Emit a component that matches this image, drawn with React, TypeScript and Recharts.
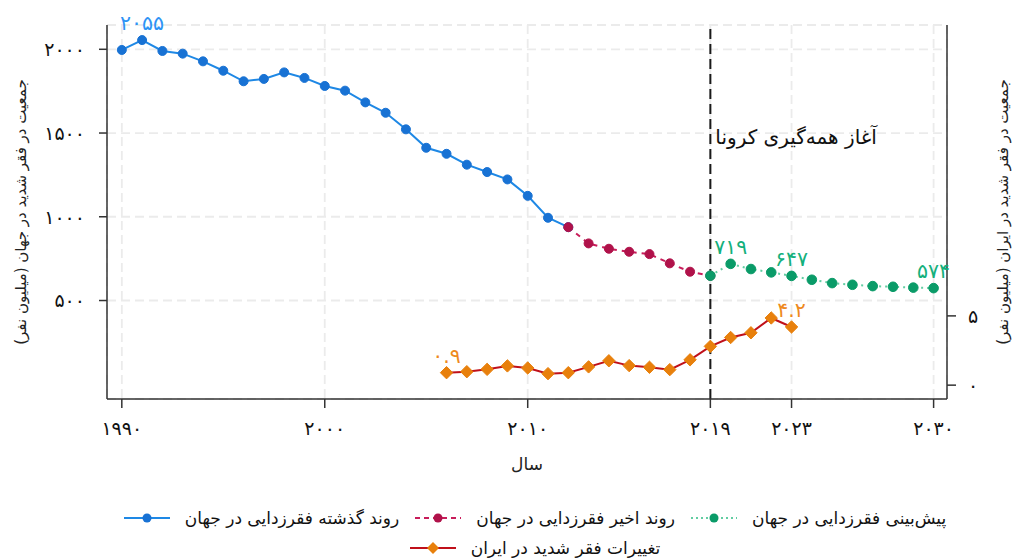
import React from 'react';
import { LineChart, Line, XAxis, YAxis, CartesianGrid, ReferenceLine } from 'recharts';

// ---- data ----
const pastYears = [1990, 1991, 1992, 1993, 1994, 1995, 1996, 1997, 1998, 1999, 2000, 2001, 2002, 2003, 2004, 2005, 2006, 2007, 2008, 2009, 2010, 2011, 2012];
const pastValues = [1996, 2055, 1990, 1974, 1928, 1872, 1809, 1823, 1862, 1829, 1781, 1753, 1683, 1621, 1522, 1412, 1376, 1311, 1267, 1223, 1125, 994, 938];

const recentYears = [2012, 2013, 2014, 2015, 2016, 2017, 2018, 2019];
const recentValues = [938, 841, 809, 791, 777, 722, 672, 648];

const forecastYears = [2019, 2020, 2021, 2022, 2023, 2024, 2025, 2026, 2027, 2028, 2029, 2030];
const forecastValues = [648, 719, 688, 668, 647, 624, 604, 594, 586, 582, 577, 574];

const iranYears = [2006, 2007, 2008, 2009, 2010, 2011, 2012, 2013, 2014, 2015, 2016, 2017, 2018, 2019, 2020, 2021, 2022, 2023];
const iranValues = [0.9, 0.97, 1.14, 1.39, 1.24, 0.83, 0.9, 1.32, 1.76, 1.41, 1.29, 1.12, 1.83, 2.8, 3.44, 3.78, 4.85, 4.2];

const xTicks = [1990, 2000, 2010, 2019, 2023, 2030];
const leftTicks = [500, 1000, 1500, 2000];
const rightTicks = [0, 5];

const pastLabelYears = [1991];
const forecastLabelYears = [2020, 2023, 2030];
const iranLabelYears = [2006, 2023];

const covidYear = 2019;
const covidText = 'آغاز همه‌گیری کرونا';
const xTitle = 'سال';
const leftTitle = 'جمعیت در فقر شدید در جهان (میلیون نفر)';
const rightTitle = 'جمعیت در فقر شدید در ایران (میلیون نفر)';
const legendNames = [
  'روند گذشته فقرزدایی در جهان',
  'روند اخیر فقرزدایی در جهان',
  'پیش‌بینی فقرزدایی در جهان',
  'تغییرات فقر شدید در ایران',
];

// ---- helpers ----
const toFa = (v: number | string) => String(v).replace(/[0-9]/g, (d) => '۰۱۲۳۴۵۶۷۸۹'[Number(d)]);
const zip = (ys: number[], vs: number[]) => ys.map((year, i) => ({ year, value: vs[i] }));

const pastData = zip(pastYears, pastValues);
const recentData = zip(recentYears, recentValues);
const forecastData = zip(forecastYears, forecastValues);
const iranData = zip(iranYears, iranValues);

const FONT = '"DejaVu Sans", sans-serif';

const C = {
  blueLine: '#1E88E5',
  blueDot: '#1872D4',
  blueText: '#2E93F5',
  redLine: '#C81D5A',
  redDot: '#B0124A',
  greenLine: '#62CDA2',
  greenDot: '#0A9B68',
  greenText: '#14B07C',
  iranLine: '#C0101A',
  iranDot: '#E8800C',
  iranText: '#EE8A1E',
  axis: '#333333',
  grid: '#EBEBEB',
};

const makeLabel = (data: { year: number; value: number }[], years: number[], color: string) =>
  (props: any) => {
    const { x, y, index } = props;
    const d = data[index];
    if (!d || !years.includes(d.year)) return null;
    return (
      <text x={x} y={y - 10} textAnchor="middle" fontSize={20.5} fill={color} fontFamily={FONT}>
        {toFa(d.value)}
      </text>
    );
  };

const Diamond = (props: any) => {
  const { cx, cy } = props;
  if (cx == null || cy == null) return null;
  const s = 6.2;
  return (
    <polygon
      points={`${cx},${cy - s} ${cx + s},${cy} ${cx},${cy + s} ${cx - s},${cy}`}
      fill={C.iranDot}
      stroke={C.iranDot}
    />
  );
};

const LegendIcon = ({ idx }: { idx: number }) => {
  const w = 46;
  const h = 14;
  const cy = h / 2;
  const cx = w / 2;
  if (idx === 0)
    return (
      <svg width={w} height={h}>
        <line x1={0} y1={cy} x2={w} y2={cy} stroke={C.blueLine} strokeWidth={2} />
        <circle cx={cx} cy={cy} r={4.5} fill={C.blueDot} />
      </svg>
    );
  if (idx === 1)
    return (
      <svg width={w} height={h}>
        <line x1={0} y1={cy} x2={w} y2={cy} stroke={C.redLine} strokeWidth={2} strokeDasharray="5 4" />
        <circle cx={cx} cy={cy} r={4.5} fill={C.redDot} />
      </svg>
    );
  if (idx === 2)
    return (
      <svg width={w} height={h}>
        <line x1={0} y1={cy} x2={w} y2={cy} stroke={C.greenLine} strokeWidth={2} strokeDasharray="2 3" />
        <circle cx={cx} cy={cy} r={4.5} fill={C.greenDot} />
      </svg>
    );
  return (
    <svg width={w} height={h}>
      <line x1={0} y1={cy} x2={w} y2={cy} stroke={C.iranLine} strokeWidth={2} />
      <polygon points={`${cx},${cy - 6} ${cx + 6},${cy} ${cx},${cy + 6} ${cx - 6},${cy}`} fill={C.iranDot} />
    </svg>
  );
};

const LegendItem = ({ idx }: { idx: number }) => (
  <span style={{ display: 'inline-flex', alignItems: 'center', margin: '0 8px' }}>
    <LegendIcon idx={idx} />
    <span style={{ marginLeft: 15, direction: 'rtl', fontSize: 17, color: '#111' }}>{legendNames[idx]}</span>
  </span>
);

export default function App() {
  return (
    <div
      style={{
        position: 'absolute',
        left: 0,
        top: 0,
        width: 1015,
        height: 559,
        background: '#fff',
        fontFamily: FONT,
        overflow: 'hidden',
      }}
    >
      <LineChart width={1015} height={559} margin={{ top: 25, right: 0, left: 0, bottom: 100 }}>
        <CartesianGrid
          yAxisId="left"
          stroke={C.grid}
          strokeWidth={1.8}
          strokeDasharray="9 5"
        />
        <XAxis
          type="number"
          dataKey="year"
          domain={[1989.27, 2030.66]}
          ticks={xTicks}
          allowDataOverflow
          height={60}
          tickSize={9}
          tickMargin={14}
          tickFormatter={toFa}
          tick={{ fontSize: 19, fill: '#111', fontFamily: FONT }}
          stroke={C.axis}
          strokeWidth={1.5}
          label={(p: any) => {
            const vb = p.viewBox || {};
            return (
              <text x={vb.x + vb.width / 2} y={470} textAnchor="middle" fontSize={17} fill="#222" fontFamily={FONT}>
                {xTitle}
              </text>
            );
          }}
        />
        <YAxis
          yAxisId="left"
          domain={[-88, 2145]}
          ticks={leftTicks}
          allowDataOverflow
          width={107}
          tickSize={8}
          tickMargin={14}
          tickFormatter={toFa}
          tick={{ fontSize: 19, fill: '#111', fontFamily: FONT }}
          stroke={C.axis}
          strokeWidth={1.5}
          label={(p: any) => {
            const vb = p.viewBox || {};
            const cy = vb.y + vb.height / 2;
            return (
              <text
                x={21}
                y={cy}
                transform={`rotate(-90, 21, ${cy})`}
                textAnchor="middle"
                dominantBaseline="central"
                direction="rtl"
                fontSize={15}
                fill="#222"
                fontFamily={FONT}
              >
                {leftTitle}
              </text>
            );
          }}
        />
        <YAxis
          yAxisId="right"
          orientation="right"
          domain={[-1, 26]}
          ticks={rightTicks}
          allowDataOverflow
          width={68}
          tickSize={9}
          tickMargin={12}
          tickFormatter={toFa}
          tick={{ fontSize: 19, fill: '#111', fontFamily: FONT }}
          stroke={C.axis}
          strokeWidth={1.5}
          label={(p: any) => {
            const vb = p.viewBox || {};
            const cy = vb.y + vb.height / 2;
            return (
              <text
                x={1003}
                y={cy}
                transform={`rotate(-90, 1003, ${cy})`}
                textAnchor="middle"
                dominantBaseline="central"
                direction="rtl"
                fontSize={15}
                fill="#222"
                fontFamily={FONT}
              >
                {rightTitle}
              </text>
            );
          }}
        />
        <ReferenceLine
          yAxisId="left"
          x={covidYear}
          stroke="#1a1a1a"
          strokeWidth={2}
          strokeDasharray="10 5"
          label={(p: any) => {
            const vb = p.viewBox || {};
            return (
              <text x={vb.x + 5} y={vb.y + 119} textAnchor="start" fontSize={20} fill="#111" fontFamily={FONT}>
                {covidText}
              </text>
            );
          }}
        />
        <Line
          yAxisId="left"
          data={pastData}
          dataKey="value"
          stroke={C.blueLine}
          strokeWidth={2}
          dot={{ r: 4.5, fill: C.blueDot, stroke: C.blueDot, strokeWidth: 1 }}
          activeDot={false}
          isAnimationActive={false}
          label={makeLabel(pastData, pastLabelYears, C.blueText)}
        />
        <Line
          yAxisId="left"
          data={recentData}
          dataKey="value"
          stroke={C.redLine}
          strokeWidth={2}
          strokeDasharray="5 5"
          dot={{ r: 4.5, fill: C.redDot, stroke: C.redDot, strokeWidth: 1, strokeDasharray: '' }}
          activeDot={false}
          isAnimationActive={false}
        />
        <Line
          yAxisId="left"
          data={forecastData}
          dataKey="value"
          stroke={C.greenLine}
          strokeWidth={2}
          strokeDasharray="2 4"
          dot={{ r: 4.8, fill: C.greenDot, stroke: C.greenDot, strokeWidth: 1, strokeDasharray: '' }}
          activeDot={false}
          isAnimationActive={false}
          label={makeLabel(forecastData, forecastLabelYears, C.greenText)}
        />
        <Line
          yAxisId="right"
          data={iranData}
          dataKey="value"
          stroke={C.iranLine}
          strokeWidth={2}
          dot={<Diamond />}
          activeDot={false}
          isAnimationActive={false}
          label={makeLabel(iranData, iranLabelYears, C.iranText)}
        />
      </LineChart>
      <div
        style={{
          position: 'absolute',
          left: 0,
          top: 503,
          width: 1070,
          display: 'flex',
          flexDirection: 'column',
          alignItems: 'center',
        }}
      >
        <div style={{ height: 30, display: 'flex', alignItems: 'center' }}>
          <LegendItem idx={0} />
          <LegendItem idx={1} />
          <LegendItem idx={2} />
        </div>
        <div style={{ height: 30, display: 'flex', alignItems: 'center' }}>
          <LegendItem idx={3} />
        </div>
      </div>
    </div>
  );
}
